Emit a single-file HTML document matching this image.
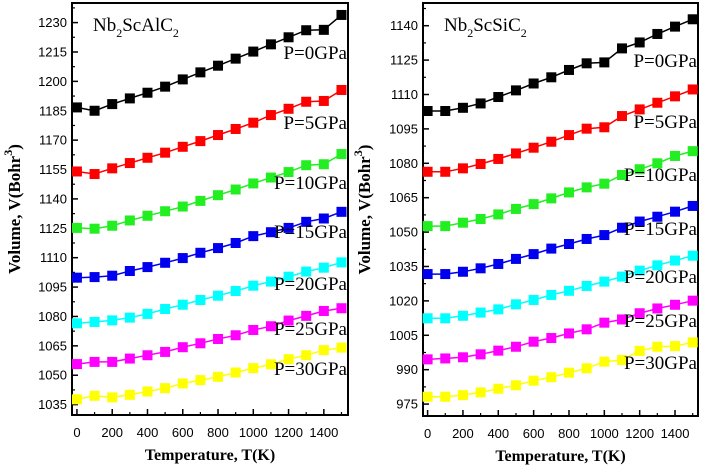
<!DOCTYPE html>
<html><head><meta charset="utf-8"><style>
html,body{margin:0;padding:0;background:#fff;}
svg{display:block;}
</style></head><body>
<svg id="chart" width="708" height="469" viewBox="0 0 708 469" xmlns="http://www.w3.org/2000/svg"></svg>
<script>
const temps = [0,100,200,300,400,500,600,700,800,900,1000,1100,1200,1300,1400,1500];
const pressureLabels = ["P=0GPa","P=5GPa","P=10GPa","P=15GPa","P=20GPa","P=25GPa","P=30GPa"];
const colors = ["#000000","#ff0000","#22ee22","#0000ee","#00ffff","#ff00ff","#ffff00"];
const xTicks = [0,200,400,600,800,1000,1200,1400];
const leftYTicks = [1035,1050,1065,1080,1095,1110,1125,1140,1155,1170,1185,1200,1215,1230];
const rightYTicks = [975,990,1005,1020,1035,1050,1065,1080,1095,1110,1125,1140];
const leftP0 = [1186.7,1185,1188.4,1191.3,1194.2,1197.3,1201,1204.6,1208,1211.6,1215.2,1218.9,1222.5,1226.1,1226.3,1233.9];
const leftP5 = [1154.0,1152.7,1155.6,1158.3,1161.0,1163.6,1166.6,1169.5,1172.6,1175.7,1178.9,1182.8,1186.0,1189.6,1190,1195.6];
const leftP10 = [1125.2,1124.8,1126.3,1129.0,1131.4,1133.7,1136.1,1139.0,1141.9,1144.8,1147.9,1150.9,1153.7,1157.2,1157.7,1162.9];
const leftP15 = [1099.8,1100.1,1100.8,1103.2,1105.2,1107.4,1109.8,1112.5,1114.9,1117.5,1121.0,1123.0,1125.2,1128.3,1130,1133.4];
const leftP20 = [1076.5,1077.2,1078.0,1079.4,1081.3,1083.8,1086.0,1088.4,1090.6,1093.0,1095.7,1097.8,1100.3,1102.9,1104.9,1107.6];
const leftP25 = [1055.7,1056.8,1056.8,1058.5,1060.2,1061.9,1064.3,1066.3,1068.5,1070.4,1073.1,1075.0,1077.9,1080.3,1082.8,1084.2];
const leftP30 = [1037.7,1039.5,1038.7,1040.0,1041.7,1043.4,1045.8,1047.5,1049.2,1051.4,1053.6,1055.6,1058.2,1060.2,1062.8,1064.1];
const rightP0 = [1102.8,1102.8,1104.2,1106.1,1108.9,1111.8,1114.8,1117.5,1120.7,1123.6,1124.0,1130.1,1132.7,1136.4,1139.6,1142.8];
const rightP5 = [1076.3,1076.3,1077.8,1079.7,1081.9,1084.3,1086.8,1089.4,1092.3,1095.1,1095.7,1100.6,1103.5,1106.4,1109.2,1112.2];
const rightP10 = [1052.6,1052.6,1054.1,1055.7,1057.7,1060.1,1062.2,1064.7,1067.3,1069.5,1071.1,1074.9,1077.4,1080.0,1083.2,1085.3];
const rightP15 = [1031.7,1031.7,1032.7,1034.2,1036.1,1038.3,1040.4,1042.8,1044.8,1047.0,1048.7,1051.9,1054.6,1056.7,1058.9,1061.4];
const rightP20 = [1012.4,1012.4,1013.5,1014.9,1016.3,1018.5,1020.4,1022.6,1024.4,1026.5,1028.4,1030.6,1033.2,1035.5,1037.6,1039.7];
const rightP25 = [994.5,994.9,995.4,996.7,998.3,1000.0,1002.2,1003.8,1005.8,1007.6,1010.5,1011.9,1014.6,1016.7,1018.3,1020.1];
const rightP30 = [978.2,978.2,978.9,980.1,981.7,983.2,985.2,986.7,988.7,990.6,993.5,994.2,998.2,1000.0,1000.3,1001.9];

const NS = "http://www.w3.org/2000/svg";
const svg = document.getElementById("chart");
function mk(tag, attrs, parent){
  const e = document.createElementNS(NS, tag);
  for (const k in attrs) e.setAttribute(k, attrs[k]);
  (parent||svg).appendChild(e);
  return e;
}

function panel(cfg){
  const g = mk("g", {});
  
  
  const L=cfg.left,R=cfg.right,T=cfg.top,B=cfg.bottom;
  const xs = t => L + (t - cfg.xmin)/(cfg.xmax - cfg.xmin)*(R-L);
  const ys = v => B - (v - cfg.ymin)/(cfg.ymax - cfg.ymin)*(B-T);
  const frame = mk("rect",{x:L,y:T,width:R-L,height:B-T,fill:"none",stroke:"#000","stroke-width":2},g);
  
  
  const step = cfg.yTicks[1]-cfg.yTicks[0];
  cfg.yTicks.forEach((v,i)=>{
    const y = ys(v);
    mk("line",{x1:L,x2:L+6,y1:y,y2:y,stroke:"#000","stroke-width":1.5},g);
    const mv = v + step/2;
    if (mv < cfg.ymax) { const my=ys(mv); mk("line",{x1:L,x2:L+3,y1:my,y2:my,stroke:"#000","stroke-width":1.2},g); }
    const t = mk("text",{x:L-5,y:y+4.5,"text-anchor":"end","font-family":"Liberation Sans, sans-serif","font-size":13,fill:"#000"},g);
    t.textContent = v;
    
    
  });
  { const my = ys(cfg.yTicks[0]-step/2); if (my < B) mk("line",{x1:L,x2:L+3,y1:my,y2:my,stroke:"#000","stroke-width":1.2},g); }
  xTicks.forEach(v=>{
    const x = xs(v);
    mk("line",{x1:x,x2:x,y1:B,y2:B-6,stroke:"#000","stroke-width":1.5},g);
    const mx = xs(v+100);
    if (mx < R) mk("line",{x1:mx,x2:mx,y1:B,y2:B-3,stroke:"#000","stroke-width":1.2},g);
    const t = mk("text",{x:x,y:B+22,"text-anchor":"middle","font-family":"Liberation Sans, sans-serif","font-size":13,fill:"#000"},g);
    t.textContent = v;
    
    
  });
  cfg.series.forEach((data,si)=>{
    const sg = mk("g",{},g);
    
    
    const pts = data.map((v,i)=>xs(temps[i]).toFixed(1)+","+ys(v).toFixed(1)).join(" ");
    mk("polyline",{points:pts,fill:"none",stroke:colors[si],"stroke-width":1.5},sg);
    data.forEach((v,i)=>{
      const r = mk("rect",{x:xs(temps[i])-5,y:ys(v)-5,width:10,height:10,fill:colors[si]},sg);
      
      
    });
  });
  cfg.labelYs.forEach((ly,si)=>{
    const t = mk("text",{x:R-1,y:ly+6,"text-anchor":"end","font-family":"Liberation Serif, serif","font-size":19,fill:"#000"},g);
    t.textContent = pressureLabels[si];
    
    
  });
  const title = mk("text",{x:L+21,y:T+28,"font-family":"Liberation Serif, serif","font-size":19,fill:"#000"},g);
  title.innerHTML = cfg.titleHTML;
  
  
  const yt = mk("text",{x:0,y:0,transform:`translate(${cfg.yTitleX},${(T+B)/2}) rotate(-90)`,"text-anchor":"middle","font-family":"Liberation Serif, serif","font-size":17,"font-weight":"bold",fill:"#000"},g);
  yt.innerHTML = 'Volume,  V(Bohr<tspan dy="-8" font-size="12">3</tspan><tspan dy="8">)</tspan>';
  
  
  const xt = mk("text",{x:(L+R)/2,y:B+45,"text-anchor":"middle","font-family":"Liberation Serif, serif","font-size":16,"font-weight":"bold",fill:"#000"},g);
  xt.textContent = "Temperature, T(K)";
  
  
}

panel({name:"panel-nb2scalc2",left:72,right:348,top:3,bottom:415,xmin:-28,xmax:1537,ymin:1029.7,ymax:1240,
  yTicks:leftYTicks,series:[leftP0,leftP5,leftP10,leftP15,leftP20,leftP25,leftP30],
  labelYs:[53,123,183,232,284,329,369],yTitleX:20,
  titleHTML:'Nb<tspan dy="6" font-size="12">2</tspan><tspan dy="-6">ScAlC</tspan><tspan dy="6" font-size="12">2</tspan>'});
panel({name:"panel-nb2scsic2",left:423,right:698,top:3,bottom:416,xmin:-26,xmax:1530,ymin:969.8,ymax:1149.9,
  yTicks:rightYTicks,series:[rightP0,rightP5,rightP10,rightP15,rightP20,rightP25,rightP30],
  labelYs:[61,122,175,229,277,321,363],yTitleX:370,
  titleHTML:'Nb<tspan dy="6" font-size="12">2</tspan><tspan dy="-6">ScSiC</tspan><tspan dy="6" font-size="12">2</tspan>'});
</script>
</body></html>
